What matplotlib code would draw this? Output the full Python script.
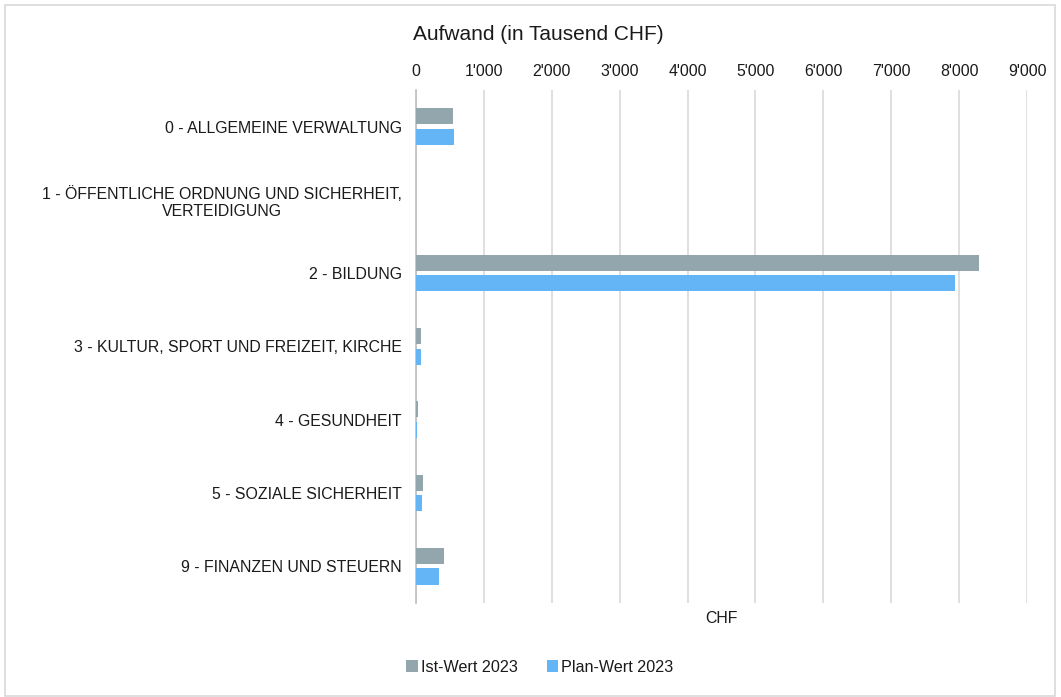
import numpy as np
import matplotlib
matplotlib.use("Agg")
import matplotlib.pyplot as plt
from matplotlib.patches import Rectangle
from matplotlib.ticker import FuncFormatter

plt.rcParams["font.family"] = ["Liberation Sans", "DejaVu Sans"]

# Daten (in Tausend CHF)
kategorien = [
    "0 - ALLGEMEINE VERWALTUNG",
    "1 - ÖFFENTLICHE ORDNUNG UND SICHERHEIT,\nVERTEIDIGUNG",
    "2 - BILDUNG",
    "3 - KULTUR, SPORT UND FREIZEIT, KIRCHE",
    "4 - GESUNDHEIT",
    "5 - SOZIALE SICHERHEIT",
    "9 - FINANZEN UND STEUERN",
]
ist_2023 = [545, 0, 8287, 72, 25, 103, 408]
plan_2023 = [565, 0, 7934, 70, 20, 96, 334]
x_ticks = [0, 1000, 2000, 3000, 4000, 5000, 6000, 7000, 8000, 9000]

farbe_ist = "#93A5AD"
farbe_plan = "#64B5F6"
txt = "#1A1A1A"

fig = plt.figure(figsize=(10.61, 6.97), dpi=100)
ax = fig.add_axes([0.392, 0.135, 0.576, 0.736])

# Rahmen um die ganze Grafik
fig.patches.append(Rectangle((5 / 1061, 0.002), 1050 / 1061, 1 - 5 / 697 - 0.002,
                             transform=fig.transFigure, fill=False,
                             edgecolor="#D9D9D9", linewidth=1.2))

y = np.arange(len(kategorien))
h = 0.22
ax.barh(y - 0.14, ist_2023, height=h, color=farbe_ist, label="Ist-Wert 2023", zorder=3)
ax.barh(y + 0.14, plan_2023, height=h, color=farbe_plan, label="Plan-Wert 2023", zorder=3)

ax.set_xlim(0, 9000)
ax.set_ylim(len(kategorien) - 0.5, -0.5)
ax.set_yticks(y)
ax.set_yticklabels(kategorien, fontsize=11.4, color=txt)
for lbl in ax.get_yticklabels():
    lbl.set_multialignment("center")

ax.set_xticks(x_ticks)
ax.xaxis.set_major_formatter(FuncFormatter(lambda v, p: f"{int(v):,}".replace(",", "'")))
ax.xaxis.tick_top()
ax.tick_params(axis="x", length=0, labelsize=11.4, labelcolor=txt, pad=8)
ax.tick_params(axis="y", length=0, pad=10)
ax.grid(axis="x", color="#D9D9D9", linewidth=1.2, zorder=0)

for s in ["top", "right", "bottom"]:
    ax.spines[s].set_visible(False)
ax.spines["left"].set_color("#BFBFBF")
ax.spines["left"].set_linewidth(1.2)

ax.set_xlabel("CHF", fontsize=11.4, color=txt, labelpad=6)

fig.text(413 / 1061, 1 - 35 / 697, "Aufwand (in Tausend CHF)", fontsize=15,
         color=txt, ha="left", va="center")

fig.legend(loc="center", bbox_to_anchor=(540 / 1061, 1 - 667 / 697), ncol=2,
           frameon=False, fontsize=11.6, handlelength=0.7, handleheight=0.7,
           handletextpad=0.2, columnspacing=1.8, labelcolor=txt)

fig.savefig("out.png", dpi=100)
